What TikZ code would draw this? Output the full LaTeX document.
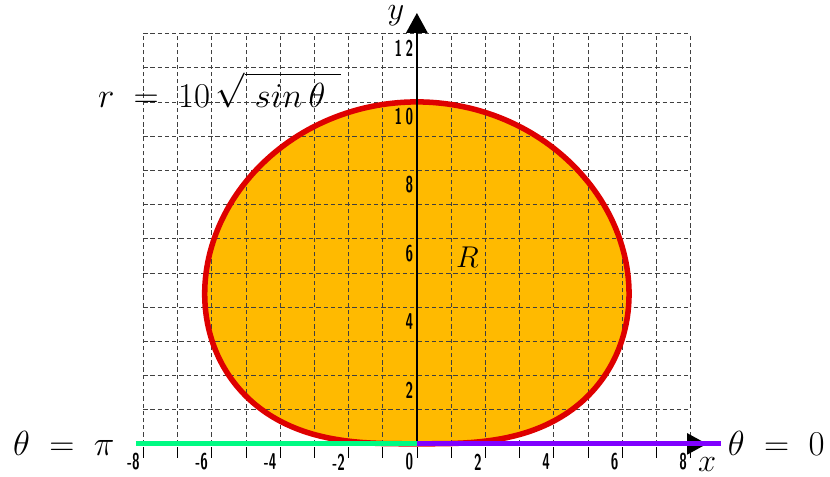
\RequirePackage{fix-cm}
\documentclass[tikz,border=0pt]{standalone}
\usepackage{amsmath}
\usepackage{xcolor}
\usepackage{tikz}
\usetikzlibrary{arrows.meta}

\definecolor{regionfill}{RGB}{255,186,0}
\definecolor{curvered}{RGB}{222,0,0}
\definecolor{rayleft}{RGB}{0,250,130}
\definecolor{rayright}{RGB}{128,0,255}

\newcommand{\ticklab}[1]{\scalebox{0.6}[1]{\fontsize{19}{21}\selectfont\sffamily\bfseries #1}}

\begin{document}
\begin{tikzpicture}[
  gridline/.style={black!75, line width=0.6pt, dash pattern=on 3.6pt off 2.4pt},
  axis/.style={line width=1.6pt, -{Triangle[length=0.58cm, width=0.62cm]}},
  curve/.style={curvered, line width=4.6pt},
  ray/.style={line width=4.2pt},
  bigtext/.style={font=\fontsize{29}{34}\selectfont, inner sep=0pt},
  ticklabel/.style={inner sep=0pt}
]
\useasboundingbox (-12.19,-0.94) rectangle (12.08,12.98);

% region R under the curve
\fill[regionfill] plot[domain=0:180, samples=361, variable=\t]
  ({10*sqrt(abs(sin(\t)))*cos(\t)},{10*sqrt(abs(sin(\t)))*sin(\t)}) -- cycle;
\draw[gridline] (-8,0) grid (8,12);
\foreach \k in {-8,...,8}
  \draw[line width=0.6pt] (\k,-0.1) -- (\k,-0.4);

% the curve
\draw[curve] plot[domain=0:180, samples=361, variable=\t]
  ({10*sqrt(abs(sin(\t)))*cos(\t)},{10*sqrt(abs(sin(\t)))*sin(\t)});

% axes
\coordinate (O) at (0,0);
\coordinate (ytip) at (0,12.6);
\coordinate (xtip) at (8.48,0);
\coordinate (lend) at (-8.22,0);
\coordinate (rend) at (8.9,0);
\draw[axis] (O) -- (ytip);
\draw[axis] (O) -- (xtip);
\draw[ray, rayleft] (lend) -- (O);
\draw[ray, rayright] (O) -- (rend);

% tick labels
\foreach \v in {-8,-6,-4,-2,0,2,4,6,8}
  \node[ticklabel, anchor=east] (xl\v) at (\v-0.1,-0.53) {\ticklab{\v}};
\foreach \v/\txt in {2/2,4/4,6/6,8/8,10/{1\hspace{5pt}0},12/{1\hspace{5pt}2}}
  \node[ticklabel, anchor=east] (yl\v) at (-0.1,\v-0.43) {\ticklab{\txt}};

% labels
\node[bigtext, anchor=base west] (eqn) at (-9.33,9.85)
  {$r\;=\;10\,\sqrt{\rule{0pt}{0.84em}\;sin\,\theta\;\,}$};
\node[bigtext, anchor=base west] (thpi) at (-11.81,-0.33) {$\theta\;=\;\pi$};
\node[bigtext, anchor=base west] (thzero) at (9.09,-0.33) {$\theta\;=\;0$};
\node[font=\fontsize{25}{28}\selectfont] (reg) at (1.48,5.47) {$R$};
\node[font=\fontsize{27}{30}\selectfont, anchor=base] (xlab) at (8.49,-0.82) {$x$};
\node[font=\fontsize{27}{30}\selectfont, anchor=base] (ylab) at (-0.61,12.4) {$y$};
\end{tikzpicture}
\end{document}
